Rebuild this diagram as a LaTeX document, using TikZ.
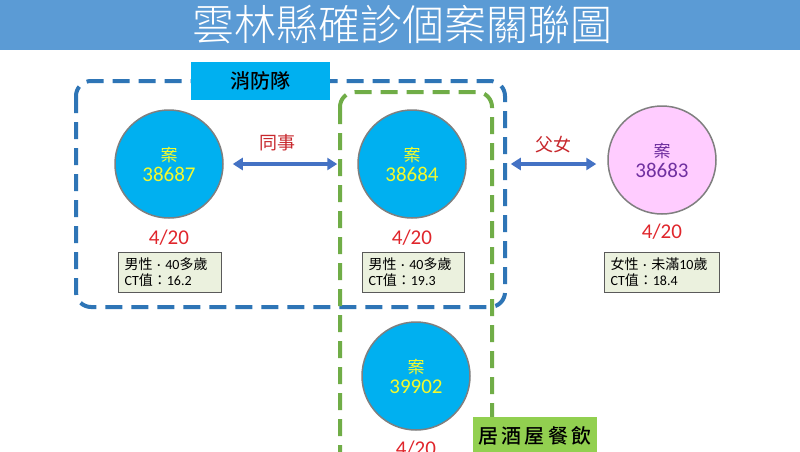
\documentclass[tikz,border=0pt]{standalone}
\usepackage{fontspec}
\setmainfont{Carlito}
\newfontfamily\cjk{Noto Sans CJK TC}
\newfontfamily\cjklight{Noto Sans CJK TC Light}
\newfontfamily\cjkmed{Noto Sans CJK TC Medium}
\usetikzlibrary{arrows.meta}
\definecolor{titlebar}{HTML}{5B9BD5}
\definecolor{cyanfill}{HTML}{00B0F0}
\definecolor{circedge}{HTML}{7F7F7F}
\definecolor{ytext}{HTML}{F2FA2E}
\definecolor{pinkfill}{HTML}{FFCCFF}
\definecolor{purptext}{HTML}{7030A0}
\definecolor{datered}{HTML}{E0262C}
\definecolor{relred}{HTML}{C8282D}
\definecolor{infofill}{HTML}{EBF1DE}
\definecolor{infoedge}{HTML}{5A5A5A}
\definecolor{bluedash}{HTML}{2E75B6}
\definecolor{greendash}{HTML}{70AD47}
\definecolor{greenlabel}{HTML}{92D050}
\definecolor{arrowblue}{HTML}{4472C4}
\tikzset{
  casecircle/.style={circle, draw=circedge, line width=1.5pt, fill=cyanfill,
    minimum size=108pt, inner sep=0pt, align=center, text=ytext,
    font=\fontsize{21}{21}\selectfont},
  pinkcircle/.style={casecircle, fill=pinkfill, text=purptext},
  datelabel/.style={text=datered, font=\fontsize{21}{23}\selectfont, inner sep=0pt},
  infobox/.style={draw=infoedge, line width=1pt, fill=infofill, anchor=north west,
    minimum height=40pt, inner xsep=6pt, inner ysep=0pt, align=left,
    font=\fontsize{14}{16}\selectfont},
  rellabel/.style={text=relred, font=\cjk\fontsize{18}{20}\selectfont, inner sep=0pt},
  relarrow/.style={arrowblue, line width=3.5pt,
    {Triangle[width=12pt,length=10pt]}-{Triangle[width=12pt,length=10pt]}},
  dashbox/.style={line width=4pt, dash pattern=on 17pt off 9pt, rounded corners=15pt},
  grouplabel/.style={inner sep=0pt, font=\cjkmed\fontsize{20}{22}\selectfont, text=black}
}
\newcommand{\casetext}[1]{{\cjk\fontsize{17}{19}\selectfont 案}\\[-1pt]#1}
\begin{document}
\begin{tikzpicture}[x=1pt,y=-1pt]
\useasboundingbox (0,0) rectangle (800,451);
\clip (0,0) rectangle (800,451);
\fill[white] (0,0) rectangle (800,451);
% title bar
\fill[titlebar] (0,0) rectangle (800,50);
\node[text=white, font=\cjklight\fontsize{42}{44}\selectfont, inner sep=0pt] (title) at (402,25) {雲林縣確診個案關聯圖};
% group boxes
\draw[bluedash, dashbox] (76,81) rectangle (505,307);
\node[fill=cyanfill, minimum width=139pt, minimum height=38pt, inner sep=0pt] (fd) at (260,81) {};
\node[grouplabel] (fdtext) at (fd.center) {消防隊};
\draw[greendash, dashbox] (340,92) rectangle (492,480);
% circles
\node[casecircle] (c1) at (169,164) {\casetext{38687}};
\node[casecircle] (c2) at (412,164) {\casetext{38684}};
\node[pinkcircle] (c3) at (662,160) {\casetext{38683}};
\node[casecircle] (c4) at (416,376) {\casetext{39902}};
% dates
\node[datelabel] (d1) at (169,238) {4/20};
\node[datelabel] (d2) at (412,238) {4/20};
\node[datelabel] (d3) at (662,232) {4/20};
\node[datelabel] (d4) at (416,449) {4/20};
% info boxes
\node[infobox, text width=91pt] (i1) at (118,252) {{\cjk 男性}\ ·\ 40{\cjk 多歲}\\CT{\cjk 值：}16.2};
\node[infobox, text width=90pt] (i2) at (362,252) {{\cjk 男性}\ ·\ 40{\cjk 多歲}\\CT{\cjk 值：}19.3};
\node[infobox, text width=103pt] (i3) at (604,252) {{\cjk 女性}\ ·\ {\cjk 未滿}10{\cjk 歲}\\CT{\cjk 值：}18.4};
% relations
\draw[relarrow, shorten <=9pt, shorten >=20pt] (c1.east) -- (c2.west);
\node[rellabel] (r1) at (277,143) {同事};
\draw[relarrow, shorten <=44pt, shorten >=11pt] (c2.east) -- (c3.west |- c2.east);
\node[rellabel] (r2) at (553,145) {父女};
% green label
\node[fill=greenlabel, minimum width=124pt, minimum height=36pt, inner sep=0pt, anchor=north west] (bar) at (473,417) {};
\node[grouplabel] (bartext) at (535,436) {居\,酒\,屋\,餐\,飲};
\end{tikzpicture}
\end{document}
